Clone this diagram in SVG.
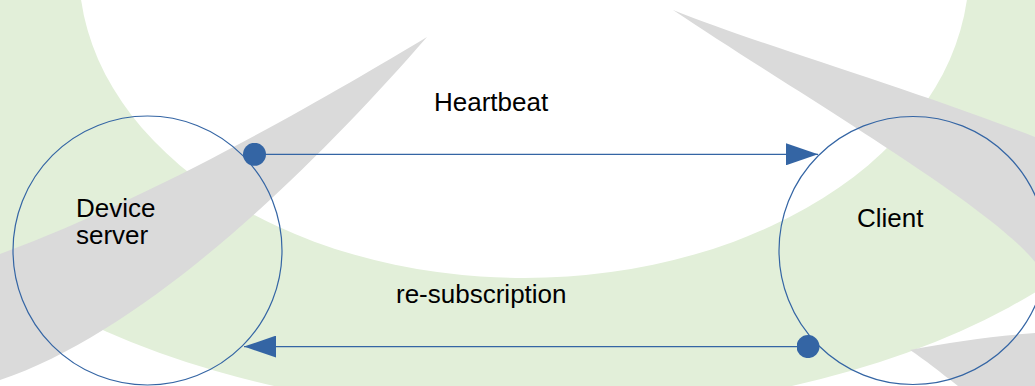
<svg xmlns="http://www.w3.org/2000/svg" width="1035" height="386" viewBox="0 0 1035 386">
  <style>
    .label { font-family: "Liberation Sans", Arial, sans-serif; font-size: 26px; fill: #000000; }
    .node { fill: none; stroke: #3465a4; stroke-width: 1.2; }
    .link { fill: none; stroke: #3465a4; stroke-width: 1.3; }
    .swoosh { fill: #dadada; }
  </style>
  <defs>
    <marker id="arrow" viewBox="0 0 32 22" refX="32" refY="11" markerWidth="32" markerHeight="22" markerUnits="userSpaceOnUse" orient="auto">
      <path d="M0,0 L32,11 L0,22 Z" fill="#3465a4"/>
    </marker>
    <marker id="dot" viewBox="0 0 24 24" refX="12" refY="12" markerWidth="23" markerHeight="23" markerUnits="userSpaceOnUse">
      <circle cx="12" cy="12" r="12" fill="#3465a4"/>
    </marker>
  </defs>

  <!-- backdrop: green ring with white centre and swooshes -->
  <g id="backdrop">
    <rect x="0" y="0" width="1035" height="386" fill="#ffffff"/>
    <ellipse cx="533" cy="50" rx="673" ry="364" fill="#e2efd9"/>
    <ellipse cx="524" cy="-30" rx="445" ry="308" fill="#ffffff"/>
    <path class="swoosh" d="M427,37 C330,95 160,195 0,254 L0,380 C150,330 320,160 427,37 Z"/>
    <path class="swoosh" d="M673,10 C760,45 900,85 1035,137 L1035,262 C990,205 800,95 673,10 Z"/>
    <path class="swoosh" d="M910,350 C950,342 995,336 1035,333 L1035,386 L958,386 C940,372 925,360 910,350 Z"/>
  </g>

  <g id="device-server">
    <circle class="node" cx="147.5" cy="250.5" r="134.5"/>
    <text class="label" x="76" y="217">Device</text>
    <text class="label" x="76" y="244">server</text>
  </g>

  <g id="client">
    <circle class="node" cx="913" cy="250.5" r="134"/>
    <text class="label" x="857" y="227">Client</text>
  </g>

  <g id="connectors">
    <line class="link" x1="254.5" y1="154.3" x2="818" y2="154.3" marker-start="url(#dot)" marker-end="url(#arrow)"/>
    <text class="label" x="434" y="111">Heartbeat</text>
    <line class="link" x1="808" y1="346.6" x2="244" y2="346.6" marker-start="url(#dot)" marker-end="url(#arrow)"/>
    <text class="label" x="396" y="303">re-subscription</text>
  </g>
</svg>
